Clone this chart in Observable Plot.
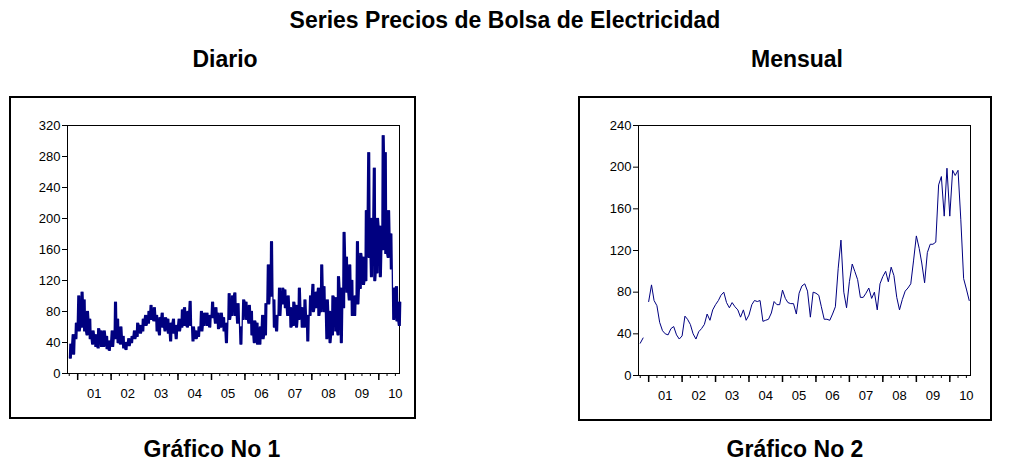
<!DOCTYPE html>
<html><head><meta charset="utf-8">
<script src="https://cdn.jsdelivr.net/npm/d3@7"></script>
<script src="https://cdn.jsdelivr.net/npm/@observablehq/plot@0.6"></script>
<style>
body{margin:0;background:#fff;font-family:"Liberation Sans",Arial,sans-serif;}
.t{position:absolute;font-weight:bold;color:#000;text-align:center;white-space:nowrap;transform:translateX(-50%);}
.box{position:absolute;border:2px solid #000;box-sizing:border-box;}
</style></head><body>
<div class="t" style="left:505px;top:7px;font-size:23px">Series Precios de Bolsa de Electricidad</div>
<div class="t" style="left:225px;top:46px;font-size:23px">Diario</div>
<div class="t" style="left:797px;top:46px;font-size:23px">Mensual</div>
<div class="t" style="left:212px;top:436px;font-size:23px">Gráfico No 1</div>
<div class="t" style="left:795px;top:436px;font-size:23px">Gráfico No 2</div>
<div class="box" id="b1" style="left:9px;top:96px;width:407px;height:323px"></div>
<div class="box" id="b2" style="left:578px;top:96px;width:414px;height:325px"></div>
<script>
// Daily series: per-month low/high estimates, Oct 2000 .. Aug 2010
const dailyStart = [2000, 9];
const dailyLow = [20,25,45,
55,60,55,50,45,38,35,33,35,35,32,30,
35,45,40,38,33,31,36,40,45,48,52,55,
62,65,70,68,55,50,60,55,52,42,52,45,
55,60,62,60,62,42,45,48,55,62,62,60,
72,65,58,60,55,40,70,75,75,65,38,70,
70,65,50,40,38,38,45,50,90,100,60,55,
75,90,85,75,60,62,60,70,60,60,42,75,
80,85,75,80,80,45,40,50,55,50,40,85,
105,95,75,75,90,110,115,120,150,125,120,130,
125,160,155,150,135,70,68,62];
const dailyHigh = [38,50,65,
100,105,95,80,70,55,50,58,55,55,48,42,
55,92,70,60,48,40,45,48,55,65,62,70,
75,80,88,85,75,72,78,72,70,65,70,62,
70,82,85,80,93,60,55,60,80,78,78,75,
92,85,78,78,72,65,103,100,104,90,60,95,
92,88,80,68,65,60,75,90,140,170,95,75,
110,110,108,100,85,92,88,110,85,95,75,100,
115,105,110,140,112,95,80,100,98,125,110,182,
150,140,120,100,170,155,150,210,285,200,265,200,
190,307,285,210,180,110,112,92];
// Monthly series (Dec 2000 missing)
const monthlyValues = [31,36,null,
71,87,72,67,51,43,40,39,45,47,39,35,
38,57,54,49,40,35,42,45,49,59,53,63,
68,72,77,80,70,65,70,66,63,56,63,53,
58,68,72,71,72,52,53,54,60,71,68,68,
82,74,70,69,69,59,79,86,88,81,56,80,
79,77,66,54,54,53,59,66,103,130,80,65,
90,107,100,92,75,75,79,84,74,80,63,88,
95,100,90,104,96,75,63,73,81,84,88,110,
134,122,108,89,118,126,126,128,183,191,153,199,
153,197,192,197,150,93,83,72];
const yTicks1 = [0,40,80,120,160,200,240,280,320];
const yTicks2 = [0,40,80,120,160,200,240];
const yearLabels = ["01","02","03","04","05","06","07","08","09","10"];

const daily = [];
dailyLow.forEach((lo,i)=>{
  const y = dailyStart[0], m = dailyStart[1]+i, hi = dailyHigh[i];
  const seq = i%2 ? [hi,lo,hi,lo,hi,lo] : [lo,hi,lo,hi,lo,hi];
  [3,8,13,18,23,28].forEach((d,k)=>daily.push({date:new Date(y,m,d), v:seq[k]}));
});
const monthly = monthlyValues.map((v,i)=>({date:new Date(2000,9+i,1), v}));

const xDomain = [new Date(2000,8,12), new Date(2010,7,15)];
const yearStarts = d3.range(2001,2011).map(y=>new Date(y,0,1));
const quarters = d3.timeMonth.every(3).range(xDomain[0], xDomain[1]);
const mids = yearLabels.map((l,i)=>({date:new Date(2001+i,6,1), l}));

function make(data, yTicks, w, h, ml, mr, sw) {
  return Plot.plot({
    width:w, height:h, marginLeft:ml, marginRight:mr, marginTop:27, marginBottom:44,
    style:{fontFamily:"Liberation Sans, Arial, sans-serif", fontSize:"13px", color:"#000", background:"transparent"},
    x:{type:"time", domain:xDomain},
    y:{domain:[0,yTicks[yTicks.length-1]]},
    marks:[
      Plot.frame({stroke:"#000", strokeWidth:1}),
      Plot.axisY({ticks:yTicks, tickSize:5, label:null, tickPadding:2, fontSize:13}),
      Plot.axisX({ticks:quarters, tickSize:3, tickFormat:()=>"", label:null}),
      Plot.axisX({ticks:yearStarts, tickSize:7, tickFormat:()=>"", label:null, strokeWidth:1.5}),
      Plot.text(mids, {x:"date", text:"l", frameAnchor:"bottom", dy:24, fontSize:13}),
      Plot.lineY(data, {x:"date", y:"v", stroke:"#000080", strokeWidth:sw})
    ]
  });
}
const p1 = make(daily, yTicks1, 403, 319, 56, 15, 1.3);
p1.style.position="absolute"; p1.style.left="11px"; p1.style.top="98px";
document.body.appendChild(p1);
const p2 = make(monthly, yTicks2, 410, 321, 58, 20, 1);
p2.style.position="absolute"; p2.style.left="580px"; p2.style.top="98px";
document.body.appendChild(p2);
</script></body></html>
